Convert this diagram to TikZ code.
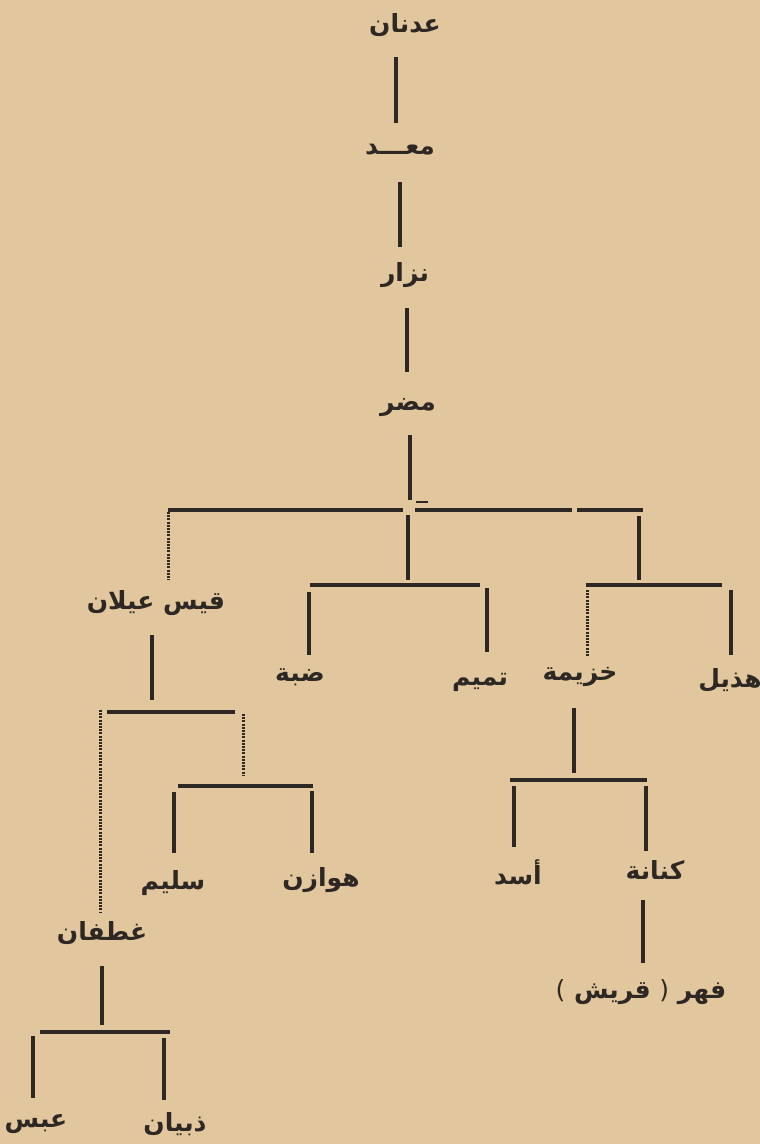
\documentclass[tikz,border=0pt]{standalone}
\usepackage{fontspec}
\newfontfamily\arabicfont[Script=Arabic]{DejaVu Sans}
\newfontfamily\plainfont{DejaVu Sans}
\TeXXeTstate=1
\definecolor{paper}{RGB}{226,199,158}
\definecolor{ink}{RGB}{45,40,36}
\begin{document}
\begin{tikzpicture}[x=1pt,y=-1pt,
 lbl/.style={font=\arabicfont\bfseries\fontsize{25}{30}\selectfont, text=ink, inner sep=0pt},
 bar/.style={draw=ink, line width=4.5pt},
 dotline/.style={draw=ink, line width=3pt, dash pattern=on 2pt off 1.2pt}]
\fill[paper] (0,0) rectangle (760,1144);
\useasboundingbox (0,0) rectangle (760,1144);
% labels
\node[lbl] (adnan) at (405,25) {\beginR عدنان\endR};
\node[lbl] (maad) at (400,150) {\beginR معـــد\endR};
\node[lbl] (nizar) at (405,275) {\beginR نزار\endR};
\node[lbl] (mudar) at (408,408) {\beginR مضر\endR};
\node[lbl] (qays) at (156,603) {\beginR قيس عيلان\endR};
\node[lbl] (dabba) at (300,677) {\beginR ضبة\endR};
\node[lbl] (tamim) at (480,682) {\beginR تميم\endR};
\node[lbl] (khuzayma) at (580,677) {\beginR خزيمة\endR};
\node[lbl] (hudhayl) at (730,680) {\beginR هذيل\endR};
\node[lbl] (sulaym) at (173,883) {\beginR سليم\endR};
\node[lbl] (hawazin) at (321,880) {\beginR هوازن\endR};
\node[lbl] (ghatafan) at (102,933) {\beginR غطفان\endR};
\node[lbl] (abs) at (36,1124) {\beginR عبس\endR};
\node[lbl] (dhubyan) at (175,1124) {\beginR ذبيان\endR};
\node[lbl] (asad) at (518,872) {\beginR أسد\endR};
\node[lbl] (kinana) at (655,870) {\beginR كنانة\endR};
\node[lbl] (fihr) at (641,992) {{\plainfont\mdseries(}\ \beginR قريش\endR\ {\plainfont\mdseries)}\ \beginR فهر\endR};
% trunk
\draw[bar] (396,57) coordinate (t1a) -- (396,123) coordinate (t1b);
\draw[bar] (400,182) coordinate (t2a) -- (400,247) coordinate (t2b);
\draw[bar] (407,308) coordinate (t3a) -- (407,372) coordinate (t3b);
\draw[bar] (410,435) coordinate (t4a) -- (410,500) coordinate (t4b);
\draw[draw=ink, line width=2.5pt] (416,502) -- (428,502);
% main bar
\draw[bar] (168,510) coordinate (m1) -- (403,510) coordinate (m2);
\draw[bar] (415,510) coordinate (m3) -- (572,510) coordinate (m4);
\draw[bar] (577,510) coordinate (m5) -- (643,510) coordinate (m6);
\draw[dotline] (168,512) -- (168,580) coordinate (qtop);
% middle branch
\draw[bar] (408,515) -- (408,580) coordinate (mid);
\draw[bar] (310,585) coordinate (b1) -- (480,585) coordinate (b2);
\draw[bar] (309,592) -- (309,655) coordinate (dabtop);
\draw[bar] (487,588) -- (487,652) coordinate (tamtop);
% right branch
\draw[bar] (639,516) -- (639,580) coordinate (rgt);
\draw[bar] (586,585) coordinate (r1) -- (722,585) coordinate (r2);
\draw[dotline] (587,590) -- (587,656) coordinate (khutop);
\draw[bar] (731,590) -- (731,655) coordinate (hudtop);
% khuzayma
\draw[bar] (574,708) -- (574,773) coordinate (k0);
\draw[bar] (510,780) coordinate (k1) -- (647,780) coordinate (k2);
\draw[bar] (514,786) -- (514,847) coordinate (asadtop);
\draw[bar] (646,786) -- (646,851) coordinate (kintop);
\draw[bar] (643,900) -- (643,963) coordinate (fihrtop);
% qays
\draw[bar] (152,635) -- (152,700) coordinate (q0);
\draw[bar] (107,712) coordinate (q1) -- (235,712) coordinate (q2);
\draw[dotline] (100,710) -- (100,912) coordinate (ghatop);
\draw[dotline] (243,714) -- (243,775) coordinate (hw0);
\draw[bar] (178,786) coordinate (h1) -- (313,786) coordinate (h2);
\draw[bar] (174,792) -- (174,853) coordinate (sultop);
\draw[bar] (312,791) -- (312,853) coordinate (hawtop);
% ghatafan
\draw[bar] (102,966) -- (102,1025) coordinate (g0);
\draw[bar] (40,1032) coordinate (g1) -- (170,1032) coordinate (g2);
\draw[bar] (33,1036) -- (33,1098) coordinate (abstop);
\draw[bar] (164,1038) -- (164,1100) coordinate (dhutop);
\end{tikzpicture}
\end{document}
